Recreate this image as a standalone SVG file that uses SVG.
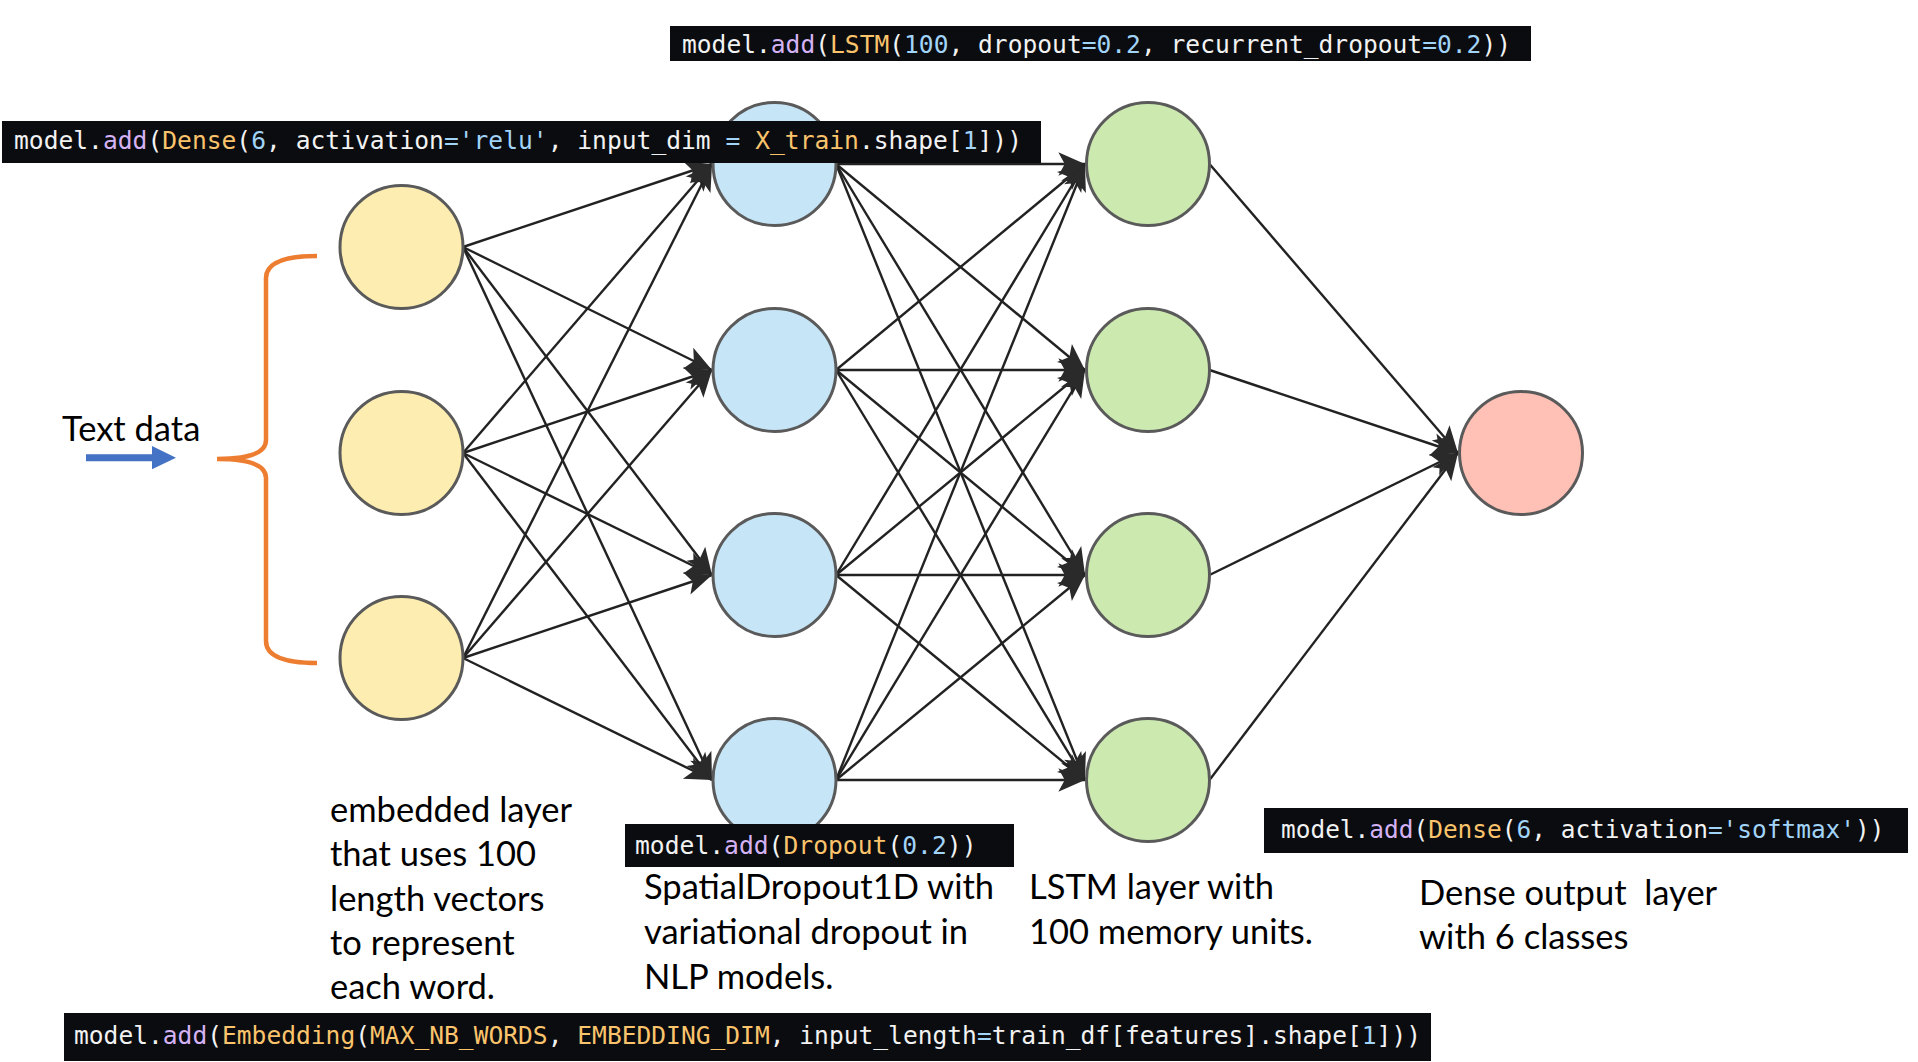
<svg xmlns="http://www.w3.org/2000/svg" width="1918" height="1062" viewBox="0 0 1918 1062">
<defs>
<marker id="ah" markerUnits="userSpaceOnUse" orient="auto" markerWidth="32" markerHeight="32" viewBox="-28 -14 30 28" refX="0" refY="0">
<path d="M0,0 L-25,-11 L-19,0 L-25,11 Z" fill="#2a2a2a"/>
</marker>
</defs>
<style>
.e{stroke:#222;stroke-width:2.4;fill:none;marker-end:url(#ah)}
.n{stroke:#5a5a5a;stroke-width:3}
.y{fill:#FDEDB0}.bl{fill:#C6E5F7}.g{fill:#CCE9B0}.r{fill:#FFC0B5}
.box{fill:#0A0C10}
.code{font-family:"DejaVu Sans Mono",monospace;font-size:25px;fill:#F2F2F2}
.p{fill:#D4B2F4}.o{fill:#FBC46C}.b{fill:#A2D4F8}
.lbl{font-family:Lato,"Open Sans",sans-serif;font-size:34.5px;fill:#000}
</style>
<rect width="1918" height="1062" fill="#fff"/>
<g id="connectors">
<line class="e" x1="463" y1="247" x2="712" y2="164"/>
<line class="e" x1="463" y1="247" x2="712" y2="370"/>
<line class="e" x1="463" y1="247" x2="712" y2="575"/>
<line class="e" x1="463" y1="247" x2="712" y2="780"/>
<line class="e" x1="463" y1="453" x2="712" y2="164"/>
<line class="e" x1="463" y1="453" x2="712" y2="370"/>
<line class="e" x1="463" y1="453" x2="712" y2="575"/>
<line class="e" x1="463" y1="453" x2="712" y2="780"/>
<line class="e" x1="463" y1="658" x2="712" y2="164"/>
<line class="e" x1="463" y1="658" x2="712" y2="370"/>
<line class="e" x1="463" y1="658" x2="712" y2="575"/>
<line class="e" x1="463" y1="658" x2="712" y2="780"/>
<line class="e" x1="836" y1="164" x2="1085" y2="164"/>
<line class="e" x1="836" y1="164" x2="1085" y2="370"/>
<line class="e" x1="836" y1="164" x2="1085" y2="575"/>
<line class="e" x1="836" y1="164" x2="1085" y2="780"/>
<line class="e" x1="836" y1="370" x2="1085" y2="164"/>
<line class="e" x1="836" y1="370" x2="1085" y2="370"/>
<line class="e" x1="836" y1="370" x2="1085" y2="575"/>
<line class="e" x1="836" y1="370" x2="1085" y2="780"/>
<line class="e" x1="836" y1="575" x2="1085" y2="164"/>
<line class="e" x1="836" y1="575" x2="1085" y2="370"/>
<line class="e" x1="836" y1="575" x2="1085" y2="575"/>
<line class="e" x1="836" y1="575" x2="1085" y2="780"/>
<line class="e" x1="836" y1="780" x2="1085" y2="164"/>
<line class="e" x1="836" y1="780" x2="1085" y2="370"/>
<line class="e" x1="836" y1="780" x2="1085" y2="575"/>
<line class="e" x1="836" y1="780" x2="1085" y2="780"/>
<line class="e" x1="1209.5" y1="164" x2="1458" y2="453"/>
<line class="e" x1="1209.5" y1="370" x2="1458" y2="453"/>
<line class="e" x1="1209.5" y1="575" x2="1458" y2="453"/>
<line class="e" x1="1209.5" y1="780" x2="1458" y2="453"/>
</g>
<g id="in1"><circle class="n y" cx="401.5" cy="247" r="61.5"/></g>
<g id="in2"><circle class="n y" cx="401.5" cy="453" r="61.5"/></g>
<g id="in3"><circle class="n y" cx="401.5" cy="658" r="61.5"/></g>
<g id="d1"><circle class="n bl" cx="774.5" cy="164" r="61.5"/></g>
<g id="d2"><circle class="n bl" cx="774.5" cy="370" r="61.5"/></g>
<g id="d3"><circle class="n bl" cx="774.5" cy="575" r="61.5"/></g>
<g id="d4"><circle class="n bl" cx="774.5" cy="780" r="61.5"/></g>
<g id="l1"><circle class="n g" cx="1148" cy="164" r="61.5"/></g>
<g id="l2"><circle class="n g" cx="1148" cy="370" r="61.5"/></g>
<g id="l3"><circle class="n g" cx="1148" cy="575" r="61.5"/></g>
<g id="l4"><circle class="n g" cx="1148" cy="780" r="61.5"/></g>
<g id="out"><circle class="n r" cx="1521" cy="453" r="61.5"/></g>
<g id="input">
<text class="lbl" x="62" y="441" font-size="32">Text data</text>
<polygon points="86,454.3 152,454.3 152,446 176,457.7 152,469.3 152,461.3 86,461.3" fill="#4472C4"/>
<path d="M317,256 Q266,256 266,278 L266,440 Q266,459 217,459 Q266,459 266,478 L266,641 Q266,663 317,663" fill="none" stroke="#ED7D31" stroke-width="4.5"/>
</g>
<g id="code-lstm">
<rect class="box" x="670" y="26" width="861" height="35"/>
<text class="code" x="682" y="52.5" textLength="829" lengthAdjust="spacingAndGlyphs" xml:space="preserve"><tspan>model.</tspan><tspan class="p">add</tspan><tspan>(</tspan><tspan class="o">LSTM</tspan><tspan>(</tspan><tspan class="b">100</tspan><tspan>, dropout</tspan><tspan class="b">=0.2</tspan><tspan>, recurrent_dropout</tspan><tspan class="b">=0.2</tspan><tspan>))</tspan></text>
</g>
<g id="code-dense-relu">
<rect class="box" x="2" y="121" width="1039" height="42"/>
<text class="code" x="14" y="149" textLength="1008" lengthAdjust="spacingAndGlyphs" xml:space="preserve"><tspan>model.</tspan><tspan class="p">add</tspan><tspan>(</tspan><tspan class="o">Dense</tspan><tspan>(</tspan><tspan class="b">6</tspan><tspan>, activation</tspan><tspan class="b">='relu'</tspan><tspan>, input_dim </tspan><tspan class="b">=</tspan><tspan> </tspan><tspan class="o">X_train</tspan><tspan>.shape[</tspan><tspan class="b">1</tspan><tspan>]))</tspan></text>
</g>
<g id="code-dropout">
<rect class="box" x="625" y="824" width="389" height="43"/>
<text class="code" x="635" y="854" textLength="341.5" lengthAdjust="spacingAndGlyphs" xml:space="preserve"><tspan>model.</tspan><tspan class="p">add</tspan><tspan>(</tspan><tspan class="o">Dropout</tspan><tspan>(</tspan><tspan class="b">0.2</tspan><tspan>))</tspan></text>
</g>
<g id="code-softmax">
<rect class="box" x="1264" y="808" width="644" height="45"/>
<text class="code" x="1281" y="838" textLength="603.5" lengthAdjust="spacingAndGlyphs" xml:space="preserve"><tspan>model.</tspan><tspan class="p">add</tspan><tspan>(</tspan><tspan class="o">Dense</tspan><tspan>(</tspan><tspan class="b">6</tspan><tspan>, activation</tspan><tspan class="b">='softmax'</tspan><tspan>))</tspan></text>
</g>
<g id="code-embedding">
<rect class="box" x="64" y="1013" width="1367" height="48"/>
<text class="code" x="74" y="1044" textLength="1347" lengthAdjust="spacingAndGlyphs" xml:space="preserve"><tspan>model.</tspan><tspan class="p">add</tspan><tspan>(</tspan><tspan class="o">Embedding</tspan><tspan>(</tspan><tspan class="o">MAX_NB_WORDS</tspan><tspan>, </tspan><tspan class="o">EMBEDDING_DIM</tspan><tspan>, input_length</tspan><tspan class="b">=</tspan><tspan>train_df[features].shape[</tspan><tspan class="b">1</tspan><tspan>]))</tspan></text>
</g>
<g id="label-embedding">
<text class="lbl" x="330" y="822">embedded layer</text>
<text class="lbl" x="330" y="866">that uses 100</text>
<text class="lbl" x="330" y="910.5">length vectors</text>
<text class="lbl" x="330" y="955">to represent</text>
<text class="lbl" x="330" y="999">each word.</text>
</g>
<g id="label-dropout">
<text class="lbl" x="644" y="899">SpatialDropout1D with</text>
<text class="lbl" x="644" y="944">variational dropout in</text>
<text class="lbl" x="644" y="989">NLP models.</text>
</g>
<g id="label-lstm">
<text class="lbl" x="1029" y="899">LSTM layer with</text>
<text class="lbl" x="1029" y="944">100 memory units.</text>
</g>
<g id="label-output">
<text class="lbl" x="1419" y="905" xml:space="preserve">Dense output  layer</text>
<text class="lbl" x="1419" y="949">with 6 classes</text>
</g>
</svg>
